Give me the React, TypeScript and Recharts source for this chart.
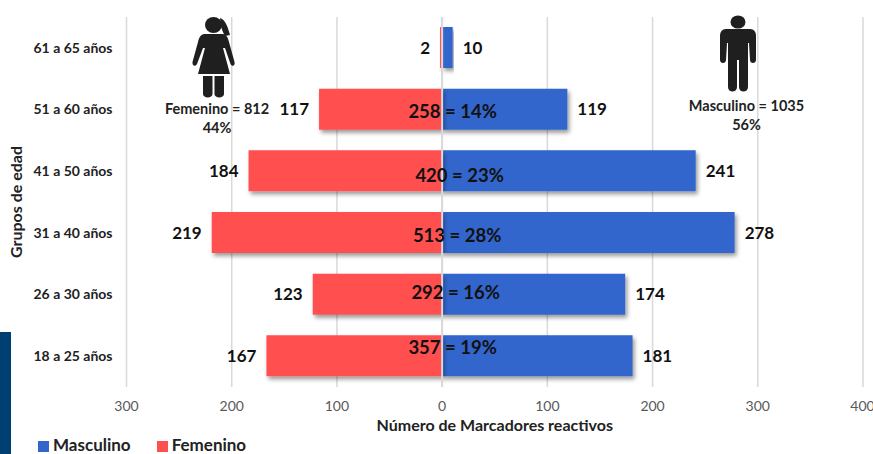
import React from "react";
import { BarChart, Bar, XAxis, YAxis, CartesianGrid, Legend, LabelList, Label, ReferenceLine } from "recharts";

const categories = ["61 a 65 años", "51 a 60 años", "41 a 50 años", "31 a 40 años", "26 a 30 años", "18 a 25 años"];
const masculino = [10, 119, 241, 278, 174, 181];
const femenino = [2, 117, 184, 219, 123, 167];
const centerLabels = ["", "258 = 14%", "420 = 23%", "513 = 28%", "292 = 16%", "357 = 19%"];
const centerShiftY = [0, 2.5, 5, 3, -2, -8];
const centerShiftX = [0, 10.5, 17.5, 15, 13.5, 10.5];
const ticks = [-300, -200, -100, 0, 100, 200, 300, 400];
const data = categories.map((c, i) => ({ c, m: masculino[i], f: -femenino[i], i }));

const FONT = "Lato, 'Open Sans', sans-serif";
const INK = "#111111";

const MaleLabel = (p: any) => {
  const { x, y, width, height, value, index } = p;
  return (
    <g>
      <text x={x + width + 10} y={y + height / 2 + 6} fontSize={17} fontWeight={700} fill={INK} fontFamily={FONT}>{value}</text>
      {centerLabels[index] ? (
        <text x={x + centerShiftX[index]} y={y + height / 2 + 6.5 + centerShiftY[index]} textAnchor="middle" fontSize={18.5} fontWeight={700} fill={INK} fontFamily={FONT}>{centerLabels[index]}</text>
      ) : null}
    </g>
  );
};
const FemaleLabel = (p: any) => {
  const { x, y, width, height, value } = p;
  const left = Math.min(x, x + width);
  return (
    <text x={left - 10} y={y + height / 2 + 6} textAnchor="end" fontSize={17} fontWeight={700} fill={INK} fontFamily={FONT}>{Math.abs(value)}</text>
  );
};

const Woman = () => (
  <svg style={{ position: "absolute", left: 190, top: 15 }} width={48} height={85} viewBox="0 0 48 85">
    <g fill="#1f1f1f">
      <ellipse cx="23.5" cy="10" rx="8.5" ry="8" />
      <path d="M30 3 C36 5 38 13 40 20 L35 21 C33 18 32 14 31 12 Z" />
      <path d="M14 19 C10 20 9 23 8 27 L2.5 47 C2 51 5.5 52 7 49 L13 33 L15 33 L8 59 L40 59 L33 33 L35 33 L40.5 49 C42 52 45.5 51 44.5 47 L39 27 C38 23 37 20 33 19 Z" />
      <path d="M13 61 L22.5 61 L22.5 79 C22.5 83.5 13 83.5 13 79 Z" />
      <path d="M24.5 61 L34 61 L34 79 C34 83.5 24.5 83.5 24.5 79 Z" />
    </g>
  </svg>
);
const Man = () => (
  <svg style={{ position: "absolute", left: 717, top: 14 }} width={44} height={80} viewBox="0 0 44 80">
    <g fill="#1f1f1f">
      <ellipse cx="21" cy="8" rx="7.5" ry="6.6" />
      <path d="M9 15 C5 15 3 18 3 22 L3 46 C3 50 9 50 9 46 L10 29 L11 29 L11 73 C11 79 20 79 20 73 L20 46 L22 46 L22 73 C22 79 31 79 31 73 L31 29 L32 29 L33 46 C33 50 39 50 39 46 L39 22 C39 18 37 15 33 15 Z" />
    </g>
  </svg>
);

const noteStyle: React.CSSProperties = {
  position: "absolute", fontFamily: FONT, fontWeight: 700, fontSize: 14.5, lineHeight: "19px", color: "#222", textAlign: "center", whiteSpace: "nowrap",
};

export default function App() {
  return (
    <div style={{ position: "absolute", left: 0, top: 0, width: 873, height: 454, overflow: "hidden", background: "#fff" }}>
      <BarChart
        width={873}
        height={454}
        data={data}
        layout="vertical"
        stackOffset="sign"
        barSize={41}
        margin={{ top: 17, right: 10, left: 0, bottom: 0 }}
      >
        <defs>
          <filter id="barShadow" x="-10%" y="-20%" width="120%" height="150%">
            <feDropShadow dx="2" dy="3" stdDeviation="2" floodColor="#000" floodOpacity="0.4" />
          </filter>
        </defs>
        <CartesianGrid horizontal={false} stroke="#d9d9d9" strokeWidth={1.5} />
        <XAxis
          type="number"
          domain={[-300, 400]}
          ticks={ticks}
          allowDataOverflow
          axisLine={false}
          tickLine={false}
          height={47}
          tickMargin={8}
          tickFormatter={(v: number) => String(Math.abs(v))}
          tick={{ fontSize: 14, fill: "#595959", fontFamily: FONT }}
        >
          <Label value="Número de Marcadores reactivos" position="insideBottom" offset={3} style={{ fontSize: 16, fontWeight: 700, fill: "#222", fontFamily: FONT }} />
        </XAxis>
        <YAxis
          type="category"
          dataKey="c"
          width={126.5}
          axisLine={false}
          tickLine={false}
          tickMargin={8}
          tick={{ fontSize: 14, fontWeight: 700, fill: "#222", fontFamily: FONT }}
        >
          <Label value="Grupos de edad" angle={-90} position="insideLeft" offset={16} style={{ fontSize: 16, fontWeight: 700, fill: "#222", textAnchor: "middle", fontFamily: FONT }} />
        </YAxis>
        <Legend
          verticalAlign="bottom"
          align="left"
          height={20}
          iconType="square"
          iconSize={11}
          itemSorter={null}
          wrapperStyle={{ left: 38, bottom: 0, fontFamily: FONT, fontSize: 17, fontWeight: 700 }}
          formatter={(v: string) => <span style={{ color: "#222", marginRight: 16 }}>{v}</span>}
        />
        <Bar dataKey="m" name="Masculino" stackId="s" fill="#3366cc" isAnimationActive={false} style={{ filter: "url(#barShadow)" }}>
          <LabelList dataKey="m" content={MaleLabel} />
        </Bar>
        <Bar dataKey="f" name="Femenino" stackId="s" fill="#ff5050" isAnimationActive={false} style={{ filter: "url(#barShadow)" }}>
          <LabelList dataKey="f" content={FemaleLabel} />
        </Bar>
        <ReferenceLine x={0} stroke="#d9d9d9" strokeWidth={2} />
      </BarChart>
      <Woman />
      <Man />
      <div style={{ ...noteStyle, left: 157, top: 99, width: 120 }}>Femenino = 812<br />44%</div>
      <div style={{ ...noteStyle, left: 686.5, top: 96, width: 120 }}>Masculino = 1035<br />56%</div>
      <div style={{ position: "absolute", left: 0, top: 332, width: 11, height: 122, background: "#003f72" }} />
    </div>
  );
}
